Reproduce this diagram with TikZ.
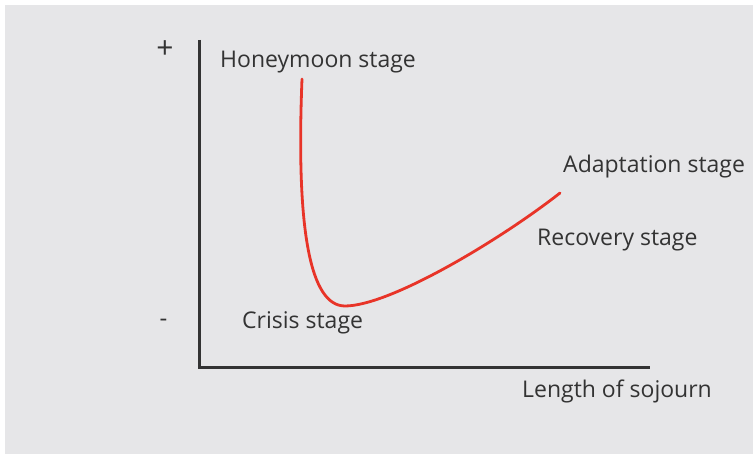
\documentclass[tikz,border=0pt]{standalone}
\usepackage{fontspec}
\setmainfont{Open Sans}
\definecolor{bggray}{RGB}{230,230,232}
\definecolor{curvered}{RGB}{232,52,40}
\definecolor{ink}{RGB}{51,51,51}
\begin{document}
\begin{tikzpicture}[x=1pt,y=1pt,
  lbl/.style={anchor=base west,inner sep=0pt,text=ink,font=\fontsize{23}{27}\selectfont},
  sign/.style={inner sep=0pt,text=ink,font=\fontsize{30}{34}\selectfont},
  axis/.style={draw=ink,line width=2.4pt},
  curve/.style={draw=curvered,line width=2.8pt,line cap=round}]
\useasboundingbox (0,0) rectangle (753,455);
\fill[white] (0,0) rectangle (753,455);
\fill[bggray] (5,1) rectangle (753,450);
% axes
\coordinate (top) at (199.5,415);
\coordinate (origin) at (199.5,87.5);
\coordinate (right) at (650,87.5);
\draw[axis] (top) -- (origin) -- (right);
% curve
\coordinate (c0) at (302,376);
\coordinate (c1) at (345,149);
\coordinate (c2) at (560,262);
\draw[curve] (c0) .. controls (296,225) and (310,149) .. (c1)
  .. controls (390,149) and (500,215) .. (c2);
% labels
\node[lbl] (honey) at (220,387) {Honeymoon stage};
\node[lbl] (adapt) at (563,282) {Adaptation stage};
\node[lbl] (recov) at (537,209) {Recovery stage};
\node[lbl] (crisis) at (242,126) {Crisis stage};
\node[lbl] (length) at (522,57) {Length of sojourn};
\node[sign] (plus) at (165,405) {+};
\node[sign,font=\fontsize{24}{28}\selectfont] (minus) at (163.5,132) {-};
\end{tikzpicture}
\end{document}
